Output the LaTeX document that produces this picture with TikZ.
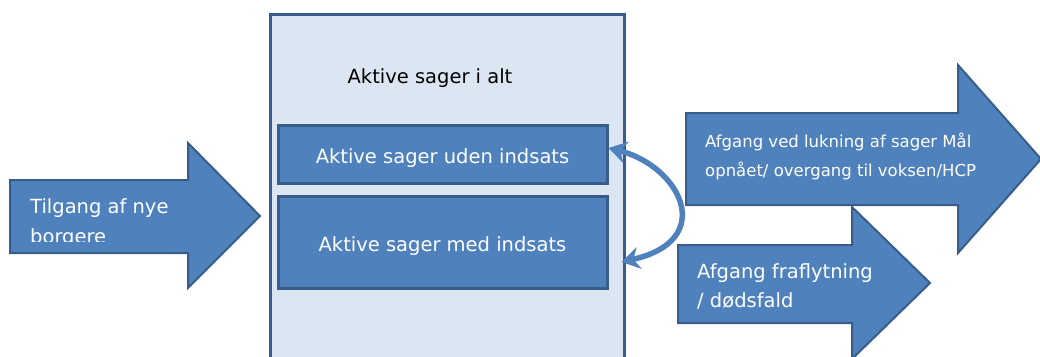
\documentclass[tikz,border=0pt]{standalone}
\usepackage{fontspec}
\setmainfont{DejaVu Sans}
\usetikzlibrary{arrows.meta,positioning}
\definecolor{flowblue}{HTML}{4F81BD}
\definecolor{flowedge}{HTML}{385D8A}
\definecolor{panelfill}{HTML}{DCE6F2}

\begin{document}
\begin{tikzpicture}[x=1pt, y=-1pt,
    panel/.style={draw=flowedge, line width=2.5pt, fill=panelfill, anchor=north west, inner sep=0pt},
    casebox/.style={draw=flowedge, line width=3pt, fill=flowblue, text=white, inner sep=0pt,
        text height=18pt, text depth=0pt, font=\fontsize{19.5}{23}\selectfont},
    flowarrow/.style={draw=flowedge, line width=2pt, fill=flowblue, line join=miter},
    flowtext/.style={text=white, anchor=base west, inner sep=0pt, align=left},
    cyclearrow/.style={flowblue, line width=5.5pt, {Stealth[length=18pt,width=22pt]}-{Stealth[length=18pt,width=22pt]}}]
    \path[use as bounding box, clip] (0,0) rectangle (1040,356);

    % Define nodes
    \node[panel, minimum width=354pt, minimum height=380pt] (total) at (269,13) {};
    \node[anchor=base, inner sep=0pt, font=\fontsize{19.5}{23}\selectfont] (title) at (430,83) {Aktive sager i alt};
    \node[casebox, minimum width=329pt, minimum height=58pt] (uden) at (442.5,154) {Aktive sager uden indsats};
    \node[casebox, minimum width=329pt, minimum height=92pt] (med) at (442.5,242) {Aktive sager med indsats};

    % Inflow arrow (second line cut off as in the text box)
    \draw[flowarrow] (10,180) -- (188,180) -- (188,143) -- (260,216) -- (188,288) -- (188,253) -- (10,253) -- cycle;
    \begin{scope}
        \clip (10,180) rectangle (188,241);
        \node[flowtext, font=\fontsize{19.5}{30}\selectfont] (tilgang) at (30,243) {Tilgang af nye\\borgere};
    \end{scope}

    % Outflow arrows
    \draw[flowarrow] (686,113) -- (958,113) -- (958,65) -- (1041,159) -- (958,253) -- (958,205) -- (686,205) -- cycle;
    \node[flowtext, font=\fontsize{16.5}{29}\selectfont] (lukning) at (705,176) {Afgang ved lukning af sager Mål\\opnået/ overgang til voksen/HCP};
    \draw[flowarrow] (678,245) -- (852,245) -- (852,207) -- (930,283) -- (852,359) -- (852,323) -- (678,323) -- cycle;
    \node[flowtext, font=\fontsize{19.5}{29}\selectfont] (fraflyt) at (697,307) {Afgang fraflytning\\/ dødsfald};

    % Exchange between the two groups
    \draw[cyclearrow] ([yshift=6pt]uden.east) .. controls (680,166) and (718,240) .. ([xshift=13pt,yshift=-20pt]med.east);
\end{tikzpicture}
\end{document}
